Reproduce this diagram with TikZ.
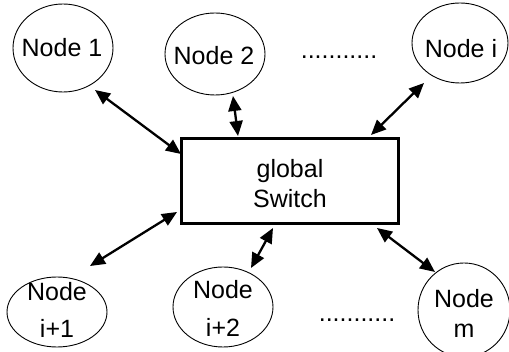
\documentclass[tikz,border=0pt]{standalone}
\usepackage{fontspec}
\setmainfont{Liberation Sans}
\usetikzlibrary{shapes.geometric,arrows.meta}
\begin{document}
\begin{tikzpicture}[x=1pt,y=-1pt,
  peer/.style={draw,line width=0.9pt,ellipse,inner sep=0pt},
  hub/.style={draw,line width=3pt,rectangle,inner sep=0pt,align=center,
    minimum width=217pt,minimum height=85pt},
  link/.style={line width=2.3pt,{Triangle[length=15pt,width=13pt]}-{Triangle[length=15pt,width=13pt]}},
  lbl/.style={font=\fontsize{25}{30}\selectfont,inner sep=0pt,align=center}
]
\useasboundingbox (0,0) rectangle (509,352);
% ellipses
\node[peer,minimum width=100pt,minimum height=88pt] (n1) at (63,48) {};
\node[peer,minimum width=100pt,minimum height=82pt] (n2) at (215,54) {};
\node[peer,minimum width=96pt,minimum height=80pt] (ni) at (460,43) {};
\node[peer,minimum width=100pt,minimum height=70pt] (ni1) at (57,312) {};
\node[peer,minimum width=100pt,minimum height=80pt] (ni2) at (223,307) {};
\node[peer,minimum width=92pt,minimum height=94pt] (nm) at (464,310) {};
% labels (baselines)
\node[lbl,anchor=base] (t1) at (62,57) {Node 1};
\node[lbl,anchor=base] (t2) at (214,65) {Node 2};
\node[lbl,anchor=base] (ti) at (461,58) {Node i};
\node[lbl,anchor=base] (t11) at (57,301) {Node};
\node[lbl,anchor=base] (t12) at (57,338) {i+1};
\node[lbl,anchor=base] (t21) at (223,299) {Node};
\node[lbl,anchor=base] (t22) at (223,337) {i+2};
\node[lbl,anchor=base] (tm1) at (464,308) {Node};
\node[lbl,anchor=base] (tm2) at (464,338) {m};
% switch
\node[hub] (sw) at (289.5,181.5) {};
\node[lbl,anchor=base] (s1) at (290,178) {global};
\node[lbl,anchor=base] (s2) at (290,208) {Switch};
\node[lbl,anchor=base] (dots1) at (339,59) {...........};
\node[lbl,anchor=base] (dots2) at (357,322) {...........};
% connector end points
\coordinate (a1) at (95,90);   \coordinate (b1) at (181,154);
\coordinate (a2) at (233,96);  \coordinate (b2) at (238,136);
\coordinate (a3) at (424,83);  \coordinate (b3) at (371,135);
\coordinate (a4) at (90,266);  \coordinate (b4) at (177,212);
\coordinate (a5) at (251,268); \coordinate (b5) at (273,228);
\coordinate (a6) at (435,272); \coordinate (b6) at (377,228);
\draw[link] (a1) -- (b1);
\draw[link] (a2) -- (b2);
\draw[link] (a3) -- (b3);
\draw[link] (a4) -- (b4);
\draw[link] (a5) -- (b5);
\draw[link] (a6) -- (b6);
\end{tikzpicture}
\end{document}
